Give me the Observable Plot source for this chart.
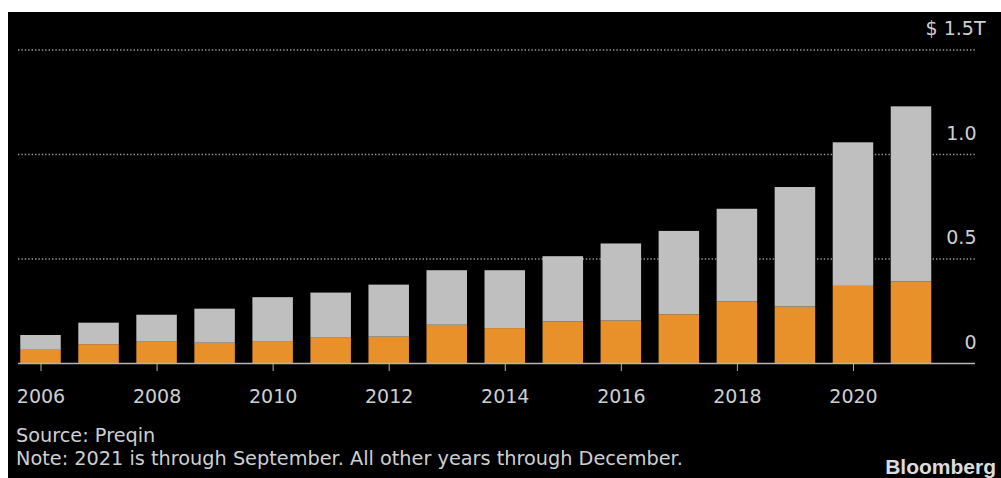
<!DOCTYPE html>
<html>
<head>
<meta charset="utf-8">
<script src="https://cdn.jsdelivr.net/npm/d3@7"></script>
<script src="https://cdn.jsdelivr.net/npm/@observablehq/plot@0.6"></script>
<style>
  html, body { margin: 0; padding: 0; background: #ffffff; }
  #frame {
    position: absolute; left: 8px; top: 12px; width: 993px; height: 466px;
    background: #000000; overflow: hidden;
    font-family: "DejaVu Sans", sans-serif; color: #cfcfcf;
  }
  #chart { position: absolute; left: 0; top: 0; }
  .cap { position: absolute; left: 8px; font-size: 19.3px; white-space: nowrap; color: #cfcfcf; }
  #brand { position: absolute; right: 5px; top: 443px; font-family: "Liberation Sans", Arial, sans-serif; font-weight: bold; font-size: 21px; color: #dcdcdc; }
</style>
</head>
<body>
<div id="frame">
  <div id="chart"></div>
  <div class="cap" id="src" style="top:412px">Source: Preqin</div>
  <div class="cap" id="note" style="top:435px">Note: 2021 is through September. All other years through December.</div>
  <div id="brand">Bloomberg</div>
</div>
<script>
// Data (trillions of US$)
const years = [2006, 2007, 2008, 2009, 2010, 2011, 2012, 2013, 2014, 2015, 2016, 2017, 2018, 2019, 2020, 2021];
const totalValues = [0.134, 0.193, 0.231, 0.260, 0.315, 0.337, 0.375, 0.444, 0.444, 0.511, 0.572, 0.632, 0.738, 0.842, 1.056, 1.228];
const orangeValues = [0.067, 0.090, 0.102, 0.097, 0.105, 0.121, 0.126, 0.183, 0.167, 0.199, 0.203, 0.233, 0.294, 0.270, 0.369, 0.390];
const yTicks = [0, 0.5, 1.0];
const yTopTick = 1.5;
const xTicks = [2006, 2008, 2010, 2012, 2014, 2016, 2018, 2020];

const orangeColor = "#e8912a";
const grayColor = "#bfbfbf";

const rows = [];
years.forEach((yr, i) => {
  rows.push({year: yr, part: "lower", value: orangeValues[i]});
  rows.push({year: yr, part: "upper", value: totalValues[i] - orangeValues[i]});
});

const half = 0.349;
const chart = Plot.plot({
  width: 993,
  height: 400,
  marginLeft: 10,
  marginRight: 26,
  marginTop: 37.5,
  marginBottom: 49,
  style: { background: "transparent", fontFamily: "DejaVu Sans, sans-serif" },
  x: { type: "linear", domain: [2005.612, 2022.103], axis: null },
  y: { domain: [0, 1.5], axis: null },
  color: { domain: ["lower", "upper"], range: [orangeColor, grayColor] },
  marks: [
    Plot.ruleY([...yTicks.filter(d => d > 0), yTopTick], { stroke: "#9a9a9a", strokeWidth: 1.4, strokeDasharray: "1.4,2" }),
    Plot.rectY(rows, Plot.stackY({
      x1: d => d.year - half,
      x2: d => d.year + half,
      y: "value",
      fill: "part",
      order: ["lower", "upper"]
    })),
    Plot.ruleY([0], { stroke: "#b5b5b5", strokeWidth: 1.5 }),
    Plot.axisX({ ticks: xTicks, tickFormat: d => String(d), tickSize: 8, tickPadding: 18, stroke: "#b5b5b5", fill: "#cfcfcf", fontSize: 19, label: null }),
    Plot.text(yTicks, { x: 2022.103, y: d => d, text: d => d === 0 ? "0" : d.toFixed(1), textAnchor: "end", dx: 1, dy: -21, fill: "#cfcfcf", fontSize: 19 }),
    Plot.text([yTopTick], { x: 2022.103, y: d => d, text: d => "$ " + d.toFixed(1) + "T", textAnchor: "end", dx: 10, dy: -21, fill: "#cfcfcf", fontSize: 19 })
  ]
});
document.getElementById("chart").appendChild(chart);
</script>
</body>
</html>
